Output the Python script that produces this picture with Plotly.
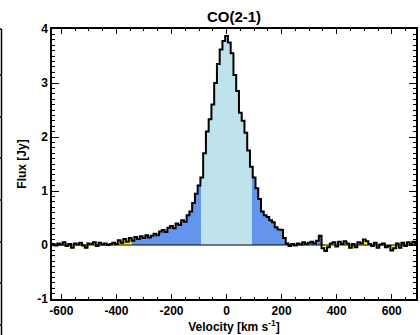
import numpy as np
import plotly.graph_objects as go

# CO(2-1) spectrum: channel centres (km/s) and flux densities (Jy)
CHAN_WIDTH = 10.0
velocity = np.arange(-630.0, 695.0, CHAN_WIDTH)
flux = [
    # -630 ... -350
    0.02, -0.01, 0.03, 0.01, 0.05, -0.02, 0.02, -0.05, 0.03, 0.01,
    0.04, -0.01, -0.05, 0.03, 0.02, 0.05, -0.02, 0.04, 0.01, 0.03,
    0.00, 0.02, 0.04, 0.02, 0.09, 0.04, 0.11, 0.06, 0.13,
    # -340 ... -150
    0.08, 0.15, 0.11, 0.16, 0.13, 0.18, 0.14, 0.17, 0.21, 0.18,
    0.25, 0.28, 0.24, 0.32, 0.35, 0.31, 0.40, 0.37, 0.46, 0.43,
    # -140 ... -10
    0.55, 0.62, 0.78, 0.95, 1.10, 1.25, 1.70, 2.10, 2.33, 2.60,
    3.00, 3.35, 3.62, 3.78,
    # 0
    3.87,
    # 10 ... 220
    3.75, 3.55, 3.15, 2.85, 2.45, 2.30, 2.08, 1.75, 1.45, 1.25,
    1.05, 0.85, 0.62, 0.55, 0.52, 0.46, 0.42, 0.33, 0.29, 0.28,
    0.13, 0.03,
    # 230 ... 690
    -0.02, 0.02, -0.01, 0.03, 0.01, 0.05, 0.02, 0.04, 0.06, 0.03,
    0.08, 0.17, -0.06, -0.11, -0.04, 0.03, 0.05, -0.03, 0.06, 0.02,
    0.07, 0.03, -0.05, 0.02, -0.04, 0.05, 0.03, 0.10, 0.07, 0.02,
    -0.02, 0.04, -0.05, 0.01, 0.03, -0.04, -0.02, -0.10, -0.06, 0.03,
    -0.05, 0.04, -0.02, 0.05, 0.02, 0.06, 0.01,
]

# velocity windows used for shading
CORE_WINDOW = (-92.0, 92.0)
WING_WINDOW = (-345.0, 345.0)

X_RANGE = [-634, 688]
Y_RANGE = [-1.0, 4.0]
X_TICKS = [-600, -400, -200, 0, 200, 400, 600]
Y_TICKS = [-1, 0, 1, 2, 3, 4]

COL_CORE = "#BFE3EC"
COL_WING = "#6495ED"
COL_OUT = "#FFFF00"

W, H = 420, 335
ML, MR, MT, MB = 52, 4, 29, 36

flux = np.asarray(flux)
lo_edges = velocity - CHAN_WIDTH / 2
hi_edges = velocity + CHAN_WIDTH / 2


def step_path():
    xs, ys = [], []
    for a, b, f in zip(lo_edges, hi_edges, flux):
        xs += [a, b]
        ys += [f, f]
    return np.array(xs), np.array(ys)


def value_at(x):
    i = int(np.clip(np.searchsorted(hi_edges, x), 0, len(flux) - 1))
    return flux[i]


def clipped(a, b):
    xs, ys = step_path()
    a = max(a, xs[0])
    b = min(b, xs[-1])
    inside = (xs > a) & (xs < b)
    cx = [a] + list(xs[inside]) + [b]
    cy = [value_at(a)] + list(ys[inside]) + [value_at(b)]
    return cx, cy


fig = go.Figure()

regions = [
    (-1e4, WING_WINDOW[0], COL_OUT),
    (WING_WINDOW[0], CORE_WINDOW[0], COL_WING),
    (CORE_WINDOW[0], CORE_WINDOW[1], COL_CORE),
    (CORE_WINDOW[1], WING_WINDOW[1], COL_WING),
    (WING_WINDOW[1], 1e4, COL_OUT),
]
for a, b, col in regions:
    cx, cy = clipped(a, b)
    fig.add_trace(go.Scatter(
        x=cx, y=cy, mode="lines", fill="tozeroy", fillcolor=col,
        line=dict(width=0, color=col), hoverinfo="skip", showlegend=False,
    ))

# zero level
fig.add_trace(go.Scatter(
    x=X_RANGE, y=[0, 0], mode="lines",
    line=dict(color="black", width=1), showlegend=False, hoverinfo="skip",
))

# histogram-style spectrum
sx, sy = step_path()
fig.add_trace(go.Scatter(
    x=sx, y=sy, mode="lines", line=dict(color="black", width=2),
    showlegend=False,
))

font_family = "Liberation Sans, Arial, Helvetica, sans-serif"
axis_common = dict(
    showline=True, linecolor="black", linewidth=1.5, mirror="ticks",
    ticks="inside", tickcolor="black", tickwidth=1.2,
    showgrid=False, zeroline=False,
    tickfont=dict(family=font_family, size=12, color="black", weight="bold"),
)

fig.update_xaxes(
    range=X_RANGE, tickvals=X_TICKS, ticktext=[str(t) for t in X_TICKS],
    ticklen=5, minor=dict(dtick=50, tick0=0, ticklen=2.5, ticks="inside",
                          tickcolor="black", tickwidth=1.2),
    title=dict(text="Velocity [km s<sup>-1</sup>]", standoff=2,
               font=dict(family=font_family, size=12, color="black",
                         weight="bold")),
    **axis_common,
)
fig.update_yaxes(
    range=Y_RANGE, tickvals=Y_TICKS, ticktext=[str(t) for t in Y_TICKS],
    ticklen=7, minor=dict(dtick=0.1, tick0=0, ticklen=3.5, ticks="inside",
                          tickcolor="black", tickwidth=1.2),
    title=dict(text="Flux [Jy]", standoff=8,
               font=dict(family=font_family, size=12, color="black",
                         weight="bold")),
    **axis_common,
)

# edge of the neighbouring panel on the left
pw, ph = W - ML - MR, H - MT - MB


def px(xp):
    return (xp - ML) / pw


def py(yp):
    return 1 - (yp - MT) / ph


shapes = [dict(type="line", xref="paper", yref="paper",
               x0=px(1.5), x1=px(1.5), y0=py(MT), y1=py(H),
               line=dict(color="black", width=1.5))]
for yp in [MT, 75, 117, 158, 200, 242, 283, 325]:
    shapes.append(dict(type="line", xref="paper", yref="paper",
                       x0=px(-6), x1=px(1.5), y0=py(yp), y1=py(yp),
                       line=dict(color="black", width=1.5)))
fig.update_layout(shapes=shapes)

fig.update_layout(
    width=W, height=H,
    margin=dict(l=ML, r=MR, t=MT, b=MB, autoexpand=False),
    paper_bgcolor="white", plot_bgcolor="white",
    title=dict(text="CO(2-1)", x=0.5, xanchor="center", xref="paper",
               y=1 - 17 / H, yanchor="middle",
               font=dict(family=font_family, size=15, color="black",
                         weight="bold")),
    showlegend=False,
)

fig.write_html("out.html")
